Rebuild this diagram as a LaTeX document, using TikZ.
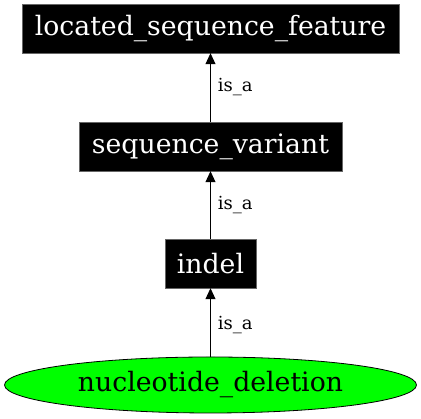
\documentclass[tikz,border=0pt]{standalone}
\usepackage{fontspec}
\setmainfont{DejaVu Serif}
\usetikzlibrary{arrows.meta,shapes.geometric}
\begin{document}
\begin{tikzpicture}[x=1pt,y=1pt,
  term/.style={rectangle,fill=black,draw=black!60,line width=0.4pt,text=white,inner sep=0pt,font=\fontsize{26.7}{30}\selectfont},
  leaf/.style={ellipse,fill=green,draw=black,line width=0.8pt,inner sep=0pt,font=\fontsize{26.7}{30}\selectfont},
  isa/.style={draw=black,line width=0.8pt,-{Triangle[length=11pt,width=10pt]}},
  lbl/.style={font=\fontsize{18}{20}\selectfont,right,inner sep=0pt}]
\useasboundingbox (0,0) rectangle (421,419);
\node[term,minimum width=377pt,minimum height=49pt] (lsf) at (210.5,390.5) {located\_sequence\_feature};
\node[term,minimum width=263pt,minimum height=49pt] (sv) at (210.5,272.5) {sequence\_variant};
\node[term,minimum width=91pt,minimum height=49pt] (indel) at (210.5,155.5) {indel};
\node[leaf,minimum width=412pt,minimum height=56pt] (nd) at (210.5,34) {nucleotide\_deletion};
\draw[isa] (sv.north) -- node[lbl,xshift=7pt] {is\_a} (lsf.south);
\draw[isa] (indel.north) -- node[lbl,xshift=7pt] {is\_a} (sv.south);
\draw[isa] (nd.north) -- node[lbl,xshift=7pt,yshift=-3pt] {is\_a} (indel.south);
\end{tikzpicture}
\end{document}
